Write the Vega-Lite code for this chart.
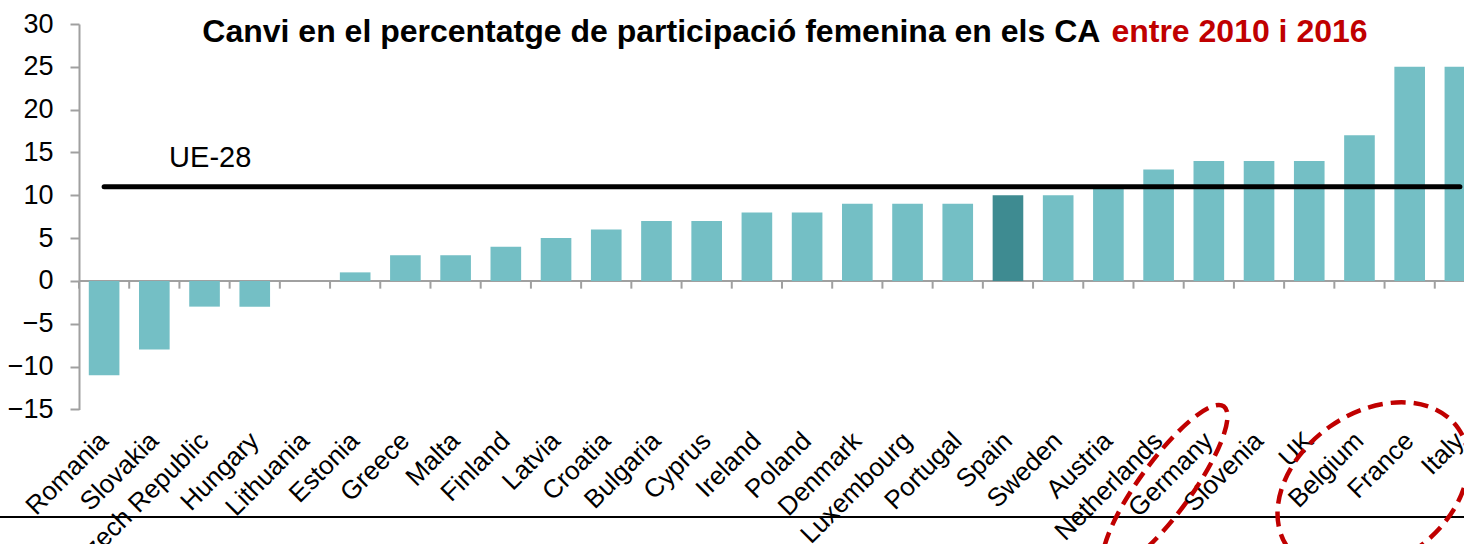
{
  "$schema": "https://vega.github.io/schema/vega-lite/v6.json",
  "width": 1385,
  "height": 385.4,
  "autosize": {"type": "none"},
  "padding": {"left": 79, "top": 24, "right": 0, "bottom": 134.6},
  "background": "white",
  "config": {"view": {"stroke": null}, "font": "Liberation Sans", "axis": {"grid": false}},
  "datasets": {
    "main": [
      {"country": "Romania", "value": -11},
      {"country": "Slovakia", "value": -8},
      {"country": "Czech Republic", "value": -3},
      {"country": "Hungary", "value": -3},
      {"country": "Lithuania", "value": 0},
      {"country": "Estonia", "value": 1},
      {"country": "Greece", "value": 3},
      {"country": "Malta", "value": 3},
      {"country": "Finland", "value": 4},
      {"country": "Latvia", "value": 5},
      {"country": "Croatia", "value": 6},
      {"country": "Bulgaria", "value": 7},
      {"country": "Cyprus", "value": 7},
      {"country": "Ireland", "value": 8},
      {"country": "Poland", "value": 8},
      {"country": "Denmark", "value": 9},
      {"country": "Luxembourg", "value": 9},
      {"country": "Portugal", "value": 9},
      {"country": "Spain", "value": 10},
      {"country": "Sweden", "value": 10},
      {"country": "Austria", "value": 11},
      {"country": "Netherlands", "value": 13},
      {"country": "Germany", "value": 14},
      {"country": "Slovenia", "value": 14},
      {"country": "UK", "value": 14},
      {"country": "Belgium", "value": 17},
      {"country": "France", "value": 25},
      {"country": "Italy", "value": 25}
    ],
    "eu": [
      {"country": "Romania", "value": 11, "label": "UE-28"},
      {"country": "Italy", "value": 11, "label": "UE-28"}
    ]
  },
  "layer": [
    {
      "data": {"values": [{}]},
      "mark": {"type": "rule", "color": "#A0A0A0", "strokeWidth": 2},
      "encoding": {"y": {"datum": 0, "type": "quantitative"}}
    },
    {
      "data": {"name": "main"},
      "mark": {"type": "bar"},
      "encoding": {
        "x": {
          "field": "country", "type": "nominal", "sort": null,
          "scale": {
            "domain": ["Romania","Slovakia","Czech Republic","Hungary","Lithuania","Estonia","Greece","Malta","Finland","Latvia","Croatia","Bulgaria","Cyprus","Ireland","Poland","Denmark","Luxembourg","Portugal","Spain","Sweden","Austria","Netherlands","Germany","Slovenia","UK","Belgium","France","Italy"],
            "range": [0, 1406], "paddingInner": 0.39, "paddingOuter": 0.195
          },
          "axis": {
            "title": null, "domain": false, "ticks": false, "labelAngle": -45,
            "labelAlign": "right", "labelBaseline": "middle", "labelFontSize": 26,
            "labelFont": "Liberation Sans", "labelPadding": 27, "labelColor": "black",
            "labelOverlap": false, "labelLimit": 500
          }
        },
        "y": {
          "field": "value", "type": "quantitative",
          "scale": {"domain": [-15, 30], "nice": false, "zero": false},
          "axis": {
            "title": null, "values": [-15,-10,-5,0,5,10,15,20,25,30],
            "domainColor": "#A0A0A0", "domainWidth": 2, "tickColor": "#A0A0A0",
            "tickWidth": 2, "tickSize": 9, "labelFontSize": 27, "labelFont": "Liberation Sans",
            "labelColor": "black", "labelPadding": 17, "labelFlush": false, "labelOverlap": false
          }
        },
        "color": {
          "condition": {"test": "datum.country === 'Spain'", "value": "#3E8B91"},
          "value": "#74BFC5"
        }
      }
    },
    {
      "data": {"name": "main"},
      "mark": {"type": "rule", "color": "#A0A0A0", "strokeWidth": 2},
      "encoding": {
        "x": {"field": "country", "type": "nominal", "bandPosition": -0.32},
        "y": {"datum": 0, "type": "quantitative"},
        "y2": {"datum": -0.9}
      }
    },
    {
      "data": {"name": "eu"},
      "mark": {"type": "line", "color": "black", "strokeWidth": 5, "strokeCap": "round"},
      "encoding": {
        "x": {"field": "country", "type": "nominal"},
        "y": {"field": "value", "type": "quantitative"}
      }
    },
    {
      "data": {"name": "eu"},
      "transform": [{"filter": "datum.country === 'Romania'"}],
      "mark": {"type": "text", "fontSize": 29, "font": "Liberation Sans", "color": "black", "align": "left", "baseline": "alphabetic", "dx": 65, "dy": -20},
      "encoding": {
        "x": {"field": "country", "type": "nominal"},
        "y": {"field": "value", "type": "quantitative"},
        "text": {"field": "label"}
      }
    },
    {
      "data": {"values": [{"t": "Canvi en el percentatge de participació femenina en els CA"}]},
      "mark": {"type": "text", "fontSize": 32, "fontWeight": "bold", "font": "Liberation Sans", "color": "black", "align": "right", "baseline": "alphabetic", "dx": -8},
      "encoding": {
        "x": {"datum": "Austria", "type": "nominal"},
        "y": {"datum": 27.85, "type": "quantitative"},
        "text": {"field": "t"}
      }
    },
    {
      "data": {"values": [{"t": "entre 2010 i 2016"}]},
      "mark": {"type": "text", "fontSize": 32, "fontWeight": "bold", "font": "Liberation Sans", "color": "#C00000", "align": "left", "baseline": "alphabetic", "dx": 3},
      "encoding": {
        "x": {"datum": "Austria", "type": "nominal"},
        "y": {"datum": 27.85, "type": "quantitative"},
        "text": {"field": "t"}
      }
    },
    {
      "data": {"values": [{}]},
      "mark": {"type": "rule", "color": "black", "strokeWidth": 2},
      "encoding": {"y": {"datum": -27.55, "type": "quantitative"}}
    },
    {
      "data": {"values": [{}]},
      "mark": {"type": "rule", "color": "black", "strokeWidth": 2},
      "encoding": {
        "x": {"datum": "Romania", "type": "nominal", "bandPosition": -2.92},
        "x2": {"datum": "Italy"},
        "y": {"datum": -27.55, "type": "quantitative"}
      }
    },
    {
      "data": {"values": [{"country": "Netherlands", "value": -24.1}]},
      "mark": {"type": "point", "shape": "M-1,0A1,0.26,0,1,1,1,0A1,0.26,0,1,1,-1,0Z", "size": 40000, "angle": -54, "filled": false, "stroke": "#C00000", "strokeWidth": 4.5, "strokeDash": [15, 8], "opacity": 1},
      "encoding": {
        "x": {"field": "country", "type": "nominal", "bandPosition": 0.71},
        "y": {"field": "value", "type": "quantitative"}
      }
    },
    {
      "data": {"values": [{"country": "Belgium", "value": -24.16}]},
      "mark": {"type": "point", "shape": "M-1,0A1,0.72,0,1,1,1,0A1,0.72,0,1,1,-1,0Z", "size": 43264, "angle": -35, "filled": false, "stroke": "#C00000", "strokeWidth": 4.5, "strokeDash": [15, 8], "opacity": 1},
      "encoding": {
        "x": {"field": "country", "type": "nominal", "bandPosition": 0.94},
        "y": {"field": "value", "type": "quantitative"}
      }
    }
  ]
}
